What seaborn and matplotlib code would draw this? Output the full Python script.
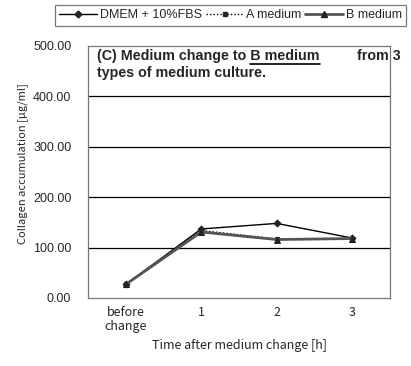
import matplotlib
matplotlib.use("Agg")
import matplotlib.pyplot as plt
import seaborn as sns
import pandas as pd
import numpy as np

categories = ["before\nchange", "1", "2", "3"]
dmem = [27, 137, 148, 119]
a_medium = [27, 134, 117, 118]
b_medium = [27, 131, 116, 118]
series_names = ["DMEM + 10%FBS", "A medium", "B medium"]
y_ticks = [0, 100, 200, 300, 400, 500]

sns.set_theme(style="white")
plt.rcParams['font.family'] = ['Liberation Sans', 'DejaVu Sans']

fig = plt.figure(figsize=(4.11, 3.66), dpi=100)
ax = fig.add_axes([88/411, 1-298/366, (390-88)/411, (298-46)/366])

pos = np.arange(len(categories))
df = pd.DataFrame({
    "pos": np.tile(pos, 3),
    "value": dmem + a_medium + b_medium,
    "series": np.repeat(series_names, len(categories)),
})

styles = {
    "DMEM + 10%FBS": dict(color="black", lw=1.0, ls="-", marker="D", ms=3.5),
    "A medium": dict(color="black", lw=1.0, ls=(0, (1, 1.5)), marker="s", ms=3.5),
    "B medium": dict(color="#555555", lw=2.0, ls="-", marker="^", ms=5),
}
handles = []
for name in series_names:
    st = styles[name]
    sub = df[df["series"] == name]
    sns.lineplot(data=sub, x="pos", y="value", ax=ax, color=st["color"],
                 linewidth=st["lw"], linestyle=st["ls"], marker=st["marker"],
                 markersize=st["ms"], markeredgecolor="#222222",
                 markerfacecolor="#222222", legend=False)
    h, = ax.plot([], [], color=st["color"], lw=st["lw"], ls=st["ls"],
                 marker=st["marker"], ms=st["ms"], mec="#222222", mfc="#222222")
    handles.append(h)

ax.set_xlim(-0.5, 3.5)
ax.set_ylim(0, 500)
ax.set_yticks(y_ticks)
ax.set_yticklabels([f"{v:.2f}" for v in y_ticks], fontsize=9)
ax.tick_params(axis="y", length=0, pad=12)
ax.set_xticks(pos)
ax.set_xticklabels(categories, fontsize=9, family=['Noto Sans CJK JP', 'DejaVu Sans'],
                   linespacing=1.1)
ax.tick_params(axis="x", which="major", length=0, pad=6)
ax.set_xticks([0.5, 1.5, 2.5], minor=True)
ax.tick_params(axis="x", which="minor", length=3, direction="in", color="black", width=0.8)

for v in [100, 200, 300, 400]:
    ax.axhline(v, color="black", lw=0.9, zorder=0)
for s in ax.spines.values():
    s.set_color("#777777")
    s.set_linewidth(0.9)

ax.set_xlabel("Time after medium change [h]", fontsize=9,
              family=['Noto Sans CJK JP', 'DejaVu Sans'], labelpad=4)
ax.set_ylabel("Collagen accumulation [μg/ml]", fontsize=8.0,
              family=['Noto Sans CJK JP', 'DejaVu Sans'])
ax.yaxis.set_label_coords(-0.198, 0.534)

# in-plot annotation
fs_t = 10.3
t1 = ax.text(97/411, 1-56/366, "(C) Medium change to B medium", transform=fig.transFigure,
             fontsize=fs_t, fontweight="bold", va="center", ha="left")
ax.text(357/411, 1-56/366, "from 3", transform=fig.transFigure,
        fontsize=fs_t, fontweight="bold", va="center", ha="left")
ax.text(97/411, 1-73/366, "types of medium culture.", transform=fig.transFigure,
        fontsize=fs_t, fontweight="bold", va="center", ha="left")
r = fig.canvas.get_renderer()
tmp = ax.text(97/411, 1-56/366, "(C) Medium change to ", transform=fig.transFigure,
              fontsize=fs_t, fontweight="bold", va="center", ha="left")
x0 = tmp.get_window_extent(r).x1
tmp.remove()
x1 = t1.get_window_extent(r).x1
yb = t1.get_window_extent(r).y0 - 1
fig.add_artist(plt.Line2D([x0/411, x1/411], [yb/366, yb/366], color="black", lw=1.2,
                          transform=fig.transFigure))

leg = fig.legend(handles, series_names, loc="upper left", bbox_to_anchor=(55/411, 1-5/366),
                 ncol=3, fontsize=9, frameon=True, fancybox=False, edgecolor="#555555",
                 handlelength=3.0, handletextpad=0.25, columnspacing=0.3,
                 borderpad=0.35, borderaxespad=0)
leg.get_frame().set_linewidth(0.9)

fig.savefig("out.png", dpi=100)
